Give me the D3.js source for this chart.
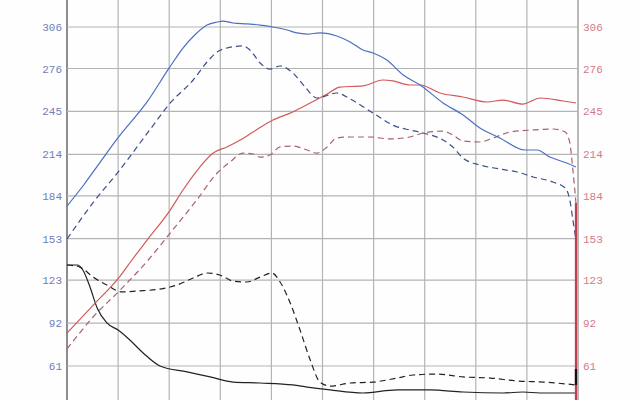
<!DOCTYPE html>
<html><head><meta charset="utf-8">
<script src="https://cdn.jsdelivr.net/npm/d3@7"></script>
<style>html,body{margin:0;padding:0;background:#fff;}svg{display:block;}</style>
</head><body>
<svg id="chart" width="640" height="400"></svg>
<script>
// ---- data (x in grid divisions 0..10, y in axis units) ----
const tickLabels = ["61","92","123","153","184","214","245","276","306"];
const tickValues = [61, 92, 123, 153, 184, 214, 245, 276, 306];
const xGrid = [0,1,2,3,4,5,6,7,8,9,10];

const blueSolidX = [0,0.33,0.65,1.00,1.57,2.00,2.27,2.50,2.74,2.94,3.05,3.25,3.52,3.78,4.03,4.31,4.50,4.70,4.95,5.28,5.54,5.79,5.99,6.26,6.58,6.91,7.36,7.75,8.08,8.47,8.96,9.20,9.45,9.78,9.96];
const blueSolidY = [176.6,192.0,208.4,226.0,252.0,276.4,290.8,300.2,307.4,309.6,310.3,308.9,308.2,307.4,306.0,303.8,301.7,300.9,301.7,299.5,295.2,289.4,287.2,282.1,271.3,264.1,251.1,242.4,233.0,225.8,217.1,217.1,212.0,207.7,204.8];

const blueDashX = [0,0.51,1.00,1.62,2.02,2.47,2.74,2.94,3.13,3.44,3.58,3.78,3.97,4.17,4.42,4.66,4.89,5.28,5.54,5.99,6.42,6.71,6.97,7.36,7.55,7.75,8.08,8.47,8.81,9.12,9.51,9.75,9.84,9.90,9.96];
const blueDashY = [152.8,179.0,201.2,231.6,251.1,267.7,280.7,288.0,290.8,292.3,289.4,280.0,275.6,277.8,272.8,262.6,254.7,258.3,254.0,243.8,234.4,231.6,229.4,224.3,219.3,211.3,206.3,203.4,201.2,197.6,194.0,189.6,181.0,166.5,152.1];

const redSolidX = [0,0.50,1.04,1.27,1.57,2.02,2.27,2.60,2.86,3.13,3.39,3.64,4.03,4.42,4.76,5.09,5.34,5.79,6.18,6.38,6.71,6.91,7.30,7.75,8.22,8.53,8.92,9.26,9.71,9.96];
const redSolidY = [84.8,104.5,126.0,137.6,152.1,173.7,188.2,204.8,214.9,219.3,224.3,230.1,238.8,244.6,251.1,257.6,262.6,263.4,267.7,267.0,264.1,264.1,258.3,255.4,251.8,253.2,250.3,254.7,252.5,251.1];

const redDashX = [0,0.51,1.04,1.59,2.02,2.54,2.94,3.19,3.44,3.64,3.78,3.97,4.17,4.42,4.70,4.89,5.09,5.28,5.54,5.93,6.32,6.71,6.97,7.36,7.55,7.75,8.08,8.34,8.67,9.12,9.51,9.75,9.84,9.90,9.96];
const redDashY = [73.3,96.4,115.9,137.6,157.1,181.0,200.5,208.4,214.9,214.2,212.0,213.5,219.3,220.0,217.1,214.9,219.3,225.8,226.5,226.5,225.1,226.5,229.4,230.8,227.9,223.6,222.9,225.8,230.1,231.6,232.3,230.1,222.2,202.7,178.8];

const blackSolidX = [0,0.20,0.31,0.45,0.59,0.78,1.00,1.23,1.49,1.82,2.35,2.80,3.25,3.78,4.42,4.70,5.15,5.79,6.46,7.10,7.75,8.53,8.92,9.26,9.96];
const blackSolidY = [134.0,134.0,130.4,118.1,102.9,92.1,87.0,79.8,70.4,61.0,56.7,53.1,49.4,48.7,47.3,45.8,43.7,41.5,43.7,43.7,42.2,41.5,42.2,41.5,41.5];

const blackDashX = [0,0.25,0.51,0.78,1.08,1.37,1.82,2.15,2.47,2.74,2.99,3.25,3.52,3.78,4.01,4.17,4.36,4.56,4.76,4.95,5.15,5.54,5.99,6.46,6.77,7.24,7.75,8.28,8.81,9.32,9.96];
const blackDashY = [134.0,132.5,125.3,119.5,114.5,115.2,116.6,119.5,124.6,128.2,126.8,122.4,121.7,125.3,128.2,121.7,107.3,87.0,65.3,49.4,46.5,48.7,49.4,52.3,54.5,55.2,53.1,52.3,50.2,49.4,47.3];

// run-end drop markers
const endX = 9.96;
const redDropTop = 178.8, redDropBottom = 0;
const blackDropTop = 58.8, blackDropBottom = 47.3;

// ---- layout ----
const svg = d3.select("#chart");
const x = d3.scaleLinear().domain([0, 10]).range([67, 578]);
const y = d3.scaleLinear().domain([61, 306]).range([366, 27]);

svg.append("rect").attr("width",640).attr("height",400).attr("fill","#fefefe");

// grid
const g = svg.append("g");
g.selectAll("line.v").data(xGrid).join("line")
  .attr("x1", d => x(d)).attr("x2", d => x(d))
  .attr("y1", 0).attr("y2", 400)
  .attr("stroke", d => (d === 0 ? "#707070" : (d === 10 ? "#8a8a8a" : "#b4b4b4")))
  .attr("stroke-width", d => (d === 0 ? 1.6 : 1.2));
const hTicks = [30.6].concat(tickValues).concat([336]);
g.selectAll("line.h").data(hTicks).join("line")
  .attr("x1", x(0)).attr("x2", x(10))
  .attr("y1", d => y(d)).attr("y2", d => y(d))
  .attr("stroke", "#b4b4b4").attr("stroke-width", 1.2);

// axes (labels only)
const leftAxis = d3.axisLeft(y).tickValues(tickValues).tickFormat((d,i) => tickLabels[i]).tickSize(0).tickPadding(5);
const la = svg.append("g").attr("transform", `translate(${x(0)},0)`).call(leftAxis);
la.select(".domain").remove();
la.selectAll("text").attr("fill", "#6f80b8").style("font-family", "'Liberation Mono', 'DejaVu Sans Mono', monospace").style("font-size", "11px");

const rightAxis = d3.axisRight(y).tickValues(tickValues).tickFormat((d,i) => tickLabels[i]).tickSize(0).tickPadding(5);
const ra = svg.append("g").attr("transform", `translate(${x(10)},0)`).call(rightAxis);
ra.select(".domain").remove();
ra.selectAll("text").attr("fill", "#d57a8a").style("font-family", "'Liberation Mono', 'DejaVu Sans Mono', monospace").style("font-size", "11px");

// series
const line = d3.line().x(d => x(d[0])).y(d => y(d[1])).curve(d3.curveMonotoneX);
const zip = (xs, ys) => xs.map((v, i) => [v, ys[i]]);
const series = [
  {xs: blackDashX, ys: blackDashY, color: "#222", dash: "6,4"},
  {xs: blackSolidX, ys: blackSolidY, color: "#222", dash: null},
  {xs: redDashX, ys: redDashY, color: "#a8606e", dash: "6,4"},
  {xs: redSolidX, ys: redSolidY, color: "#d25a5a", dash: null},
  {xs: blueDashX, ys: blueDashY, color: "#3d4f8a", dash: "6,4"},
  {xs: blueSolidX, ys: blueSolidY, color: "#4a70c2", dash: null}
];
series.forEach(s => {
  svg.append("path").datum(zip(s.xs, s.ys))
    .attr("d", line).attr("fill", "none")
    .attr("stroke", s.color).attr("stroke-width", 1.2)
    .attr("stroke-dasharray", s.dash);
});

// drop markers at run end
svg.append("line").attr("x1", x(endX)).attr("x2", x(endX))
  .attr("y1", y(redDropTop)).attr("y2", y(redDropBottom) + 100)
  .attr("stroke", "#c0404f").attr("stroke-width", 2.2);
svg.append("line").attr("x1", x(endX)).attr("x2", x(endX))
  .attr("y1", y(blackDropTop)).attr("y2", y(blackDropBottom))
  .attr("stroke", "#111").attr("stroke-width", 2.2);
</script>
</body></html>
